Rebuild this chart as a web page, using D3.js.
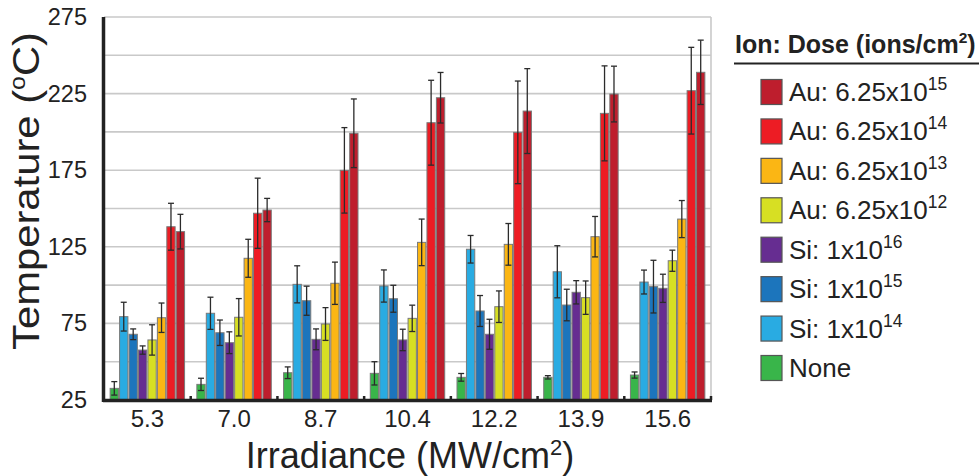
<!DOCTYPE html>
<html>
<head>
<meta charset="utf-8">
<script src="https://cdn.jsdelivr.net/npm/d3@7"></script>
<style>
  html, body { margin: 0; padding: 0; background: #ffffff; }
  svg { display: block; font-family: "Liberation Sans", Arial, Helvetica, sans-serif; }
</style>
</head>
<body>
<svg id="chart" width="979" height="476"></svg>
<script>
// Irradiance levels (MW/cm^2)
const categories = ["5.3", "7.0", "8.7", "10.4", "12.2", "13.9", "15.6"];

// Mean temperature (°C) and error for each implant condition
const noneVals  = [32.6, 35.2, 42.8, 42.4, 39.8, 39.8, 41.3];
const noneErr   = [4.4, 4.0, 3.8, 7.6, 2.5, 1.1, 2.0];
const si14Vals  = [79.4, 81.6, 100.5, 99.4, 123.4, 108.7, 102.0];
const si14Err   = [9.4, 10.5, 12.1, 10.5, 9.0, 17.0, 7.8];
const si15Vals  = [67.9, 68.9, 89.8, 91.1, 83.1, 87.0, 99.0];
const si15Err   = [3.5, 8.3, 9.5, 8.8, 10.1, 10.3, 17.2];
const si16Vals  = [57.6, 62.4, 64.6, 64.2, 67.9, 95.3, 97.9];
const si16Err   = [2.7, 7.1, 6.8, 7.0, 9.8, 7.6, 9.2];
const au12Vals  = [64.2, 79.0, 74.6, 78.3, 85.9, 91.8, 115.9];
const au12Err   = [9.9, 12.2, 10.7, 8.6, 10.3, 10.9, 6.9];
const au13Vals  = [78.7, 117.5, 101.2, 127.9, 126.6, 131.6, 143.1];
const au13Err   = [9.6, 12.4, 13.8, 15.2, 13.6, 13.2, 12.1];
const au14Vals  = [138.1, 146.9, 174.9, 206.0, 199.7, 212.1, 226.9];
const au14Err   = [15.3, 22.9, 27.9, 27.7, 33.5, 31.0, 28.3];
const au15Vals  = [134.9, 149.0, 199.1, 222.3, 213.6, 224.7, 238.9];
const au15Err   = [11.3, 7.6, 22.4, 16.5, 27.7, 18.2, 21.0];

const yTicks = [25, 75, 125, 175, 225, 275];

// Series in drawing order (left to right inside each group)
const series = [
  { key: "none", ion: "None", exp: "",   values: noneVals, err: noneErr, color: "#39b54a" },
  { key: "si14", ion: "Si: 1x10", exp: "14", values: si14Vals, err: si14Err, color: "#29abe2" },
  { key: "si15", ion: "Si: 1x10", exp: "15", values: si15Vals, err: si15Err, color: "#1c75bc" },
  { key: "si16", ion: "Si: 1x10", exp: "16", values: si16Vals, err: si16Err, color: "#662d91" },
  { key: "au12", ion: "Au: 6.25x10", exp: "12", values: au12Vals, err: au12Err, color: "#d7df23" },
  { key: "au13", ion: "Au: 6.25x10", exp: "13", values: au13Vals, err: au13Err, color: "#fbb614" },
  { key: "au14", ion: "Au: 6.25x10", exp: "14", values: au14Vals, err: au14Err, color: "#ed1c24" },
  { key: "au15", ion: "Au: 6.25x10", exp: "15", values: au15Vals, err: au15Err, color: "#be1e2d" }
];

const svg = d3.select("#chart");
const plotLeft = 104, plotRight = 711, plotTop = 17, plotBottom = 400;

const x0 = d3.scaleBand().domain(categories).range([plotLeft, plotRight]).padding(0);
const x1 = d3.scaleBand().domain(series.map(s => s.key))
  .range([0, x0.bandwidth()]).paddingInner(0.12).paddingOuter(0.65);
const y = d3.scaleLinear().domain([25, 275]).range([plotBottom, plotTop]);

// Horizontal gridlines every 25 °C
const gridVals = d3.range(50, 276, 25);
svg.append("g").selectAll("line").data(gridVals).join("line")
  .attr("x1", plotLeft).attr("x2", plotRight)
  .attr("y1", d => y(d)).attr("y2", d => y(d))
  .attr("stroke", "#c9c9c9").attr("stroke-width", 1.6);

// Right frame line
svg.append("line").attr("x1", plotRight).attr("x2", plotRight).attr("y1", plotTop).attr("y2", plotBottom)
  .attr("stroke", "#c9c9c9").attr("stroke-width", 1.6);

// Bars
const groups = svg.append("g").selectAll("g").data(categories).join("g")
  .attr("transform", d => `translate(${x0(d)},0)`);

groups.each(function(cat, ci) {
  const g = d3.select(this);
  series.forEach(s => {
    const v = s.values[ci], e = s.err[ci];
    const bx = x1(s.key), bw = x1.bandwidth();
    g.append("rect")
      .attr("x", bx).attr("y", y(v))
      .attr("width", bw).attr("height", y(25) - y(v))
      .attr("fill", s.color)
      .attr("stroke", "#7a7a7a").attr("stroke-width", 1);
    // error bar
    const cx = bx + bw / 2, cap = 3;
    const eb = g.append("g").attr("stroke", "#2b2b2b").attr("stroke-width", 1.3);
    eb.append("line").attr("x1", cx).attr("x2", cx).attr("y1", y(v + e)).attr("y2", y(v - e));
    eb.append("line").attr("x1", cx - cap).attr("x2", cx + cap).attr("y1", y(v + e)).attr("y2", y(v + e));
    eb.append("line").attr("x1", cx - cap).attr("x2", cx + cap).attr("y1", y(v - e)).attr("y2", y(v - e));
  });
});

// Y axis
const yAxis = d3.axisLeft(y).tickValues(yTicks).tickSize(0).tickPadding(17);
const yg = svg.append("g").attr("transform", `translate(${plotLeft},0)`).call(yAxis);
yg.select(".domain").remove();
yg.selectAll("text").attr("font-size", 23.5).attr("fill", "#222")
  .attr("font-family", "Liberation Sans, Arial, sans-serif");

// X axis
const xAxis = d3.axisBottom(x0).tickSize(0).tickPadding(10);
const xg = svg.append("g").attr("transform", `translate(0,${plotBottom})`).call(xAxis);
xg.select(".domain").remove();
xg.selectAll("text").attr("font-size", 24).attr("fill", "#222")
  .attr("font-family", "Liberation Sans, Arial, sans-serif");

// Group separator nubs on the baseline
const seps = categories.slice(1).map(c => x0(c)).concat([plotRight]);
svg.append("g").selectAll("line").data(seps).join("line")
  .attr("x1", d => d).attr("x2", d => d)
  .attr("y1", plotBottom - 4).attr("y2", plotBottom)
  .attr("stroke", "#222").attr("stroke-width", 2.5);

// Axis lines
svg.append("line").attr("x1", plotLeft - 1).attr("x2", plotRight + 1)
  .attr("y1", plotBottom + 0.5).attr("y2", plotBottom + 0.5)
  .attr("stroke", "#222").attr("stroke-width", 3.5);
svg.append("line").attr("x1", plotLeft - 0.5).attr("x2", plotLeft - 0.5)
  .attr("y1", plotTop).attr("y2", plotBottom + 2)
  .attr("stroke", "#222").attr("stroke-width", 3.5);

// Axis titles
const xt = svg.append("text").attr("x", 410).attr("y", 468).attr("text-anchor", "middle")
  .attr("font-size", 36).attr("fill", "#222");
xt.append("tspan").text("Irradiance (MW/cm");
xt.append("tspan").attr("font-size", 22).attr("dy", -13).text("2");
xt.append("tspan").attr("dy", 13).text(")");

const yt = svg.append("text").attr("transform", "translate(39,191) rotate(-90)")
  .attr("text-anchor", "middle").attr("font-size", 37).attr("fill", "#222")
  .attr("textLength", 318).attr("lengthAdjust", "spacingAndGlyphs");
yt.append("tspan").text("Temperature (");
yt.append("tspan").attr("font-size", 22).attr("dy", -14).text("o");
yt.append("tspan").attr("dy", 14).text("C)");

// Legend
const lg = svg.append("g");
const lt = lg.append("text").attr("x", 735).attr("y", 53).attr("font-size", 25)
  .attr("font-weight", "bold").attr("fill", "#222");
lt.append("tspan").text("Ion: Dose (ions/cm");
lt.append("tspan").attr("font-size", 15.5).attr("dy", -10).text("2");
lt.append("tspan").attr("dy", 10).text(")");
lg.append("line").attr("x1", 734).attr("x2", 979).attr("y1", 63.5).attr("y2", 63.5)
  .attr("stroke", "#222").attr("stroke-width", 2);

const legendItems = series.slice().reverse();
const ly = d3.scalePoint().domain(legendItems.map(s => s.key)).range([92, 368]);
const items = lg.selectAll("g.item").data(legendItems).join("g").attr("class", "item")
  .attr("transform", d => `translate(0,${ly(d.key)})`);
items.append("rect").attr("x", 761).attr("y", -12.5).attr("width", 21).attr("height", 25)
  .attr("fill", d => d.color).attr("stroke", "#555").attr("stroke-width", 1.2);
const itx = items.append("text").attr("x", 789).attr("y", 9).attr("font-size", 26).attr("fill", "#222");
itx.append("tspan").text(d => d.ion);
itx.append("tspan").attr("font-size", 17.5).attr("dy", -11).text(d => d.exp);
</script>
</body>
</html>
